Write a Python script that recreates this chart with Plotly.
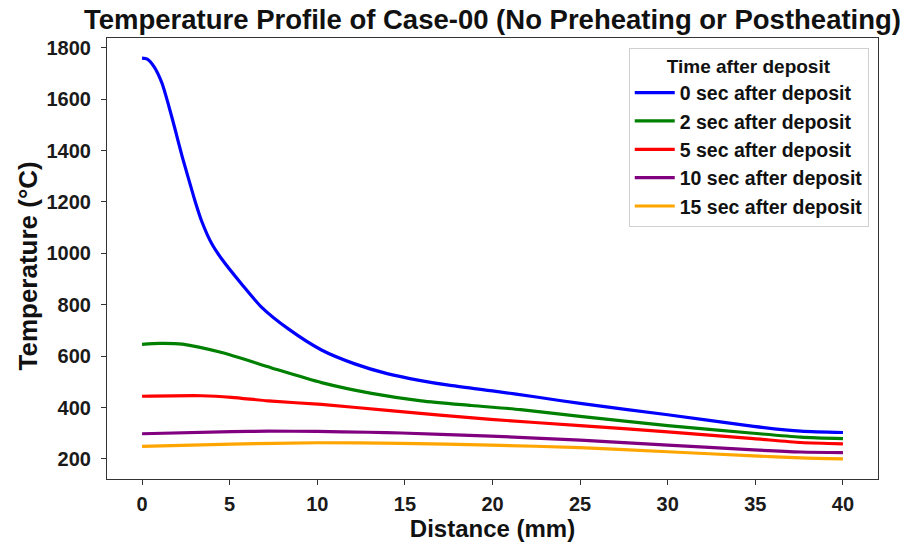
import plotly.graph_objects as go

# Temperature (°C) along the plate, sampled at the listed distances (mm)
dist_0s = [0, 0.3, 0.7, 1.14, 1.52, 1.9, 2.28, 2.66, 3.04, 3.41, 3.98, 4.55,
           5.69, 6.83, 8.35, 10.24, 12.14, 14.04, 15.9, 17.5, 20,
           22.5, 25, 30, 34.9, 37.6, 40]
temp_0s = [1760, 1756, 1725, 1662, 1575, 1479, 1379, 1289, 1200, 1124, 1037, 978,
           880, 790, 706, 624, 570, 531, 505, 487, 465,
           441, 416, 372, 327, 308, 303]

dist_2s = [0, 1, 2.3, 4.55, 7.4, 10.24, 13.1, 15.93, 18.8, 21.6, 25, 30, 34.9, 37.6, 40]
temp_2s = [646, 650, 647, 614, 554, 497, 455, 426, 408, 392, 366, 330, 300, 285, 279]

dist_5s = [0, 3.4, 5.1, 7.2, 10.24, 14, 19.9, 25, 30, 34.9, 37.6, 40]
temp_5s = [444, 446, 440, 426, 412, 389, 354, 330, 305, 279, 264, 259]

dist_10s = [0, 5.1, 7.2, 10, 12.9, 14.8, 19.9, 25, 30, 34.9, 37.6, 40]
temp_10s = [298, 306, 308, 307, 304, 301, 289, 273, 254, 235, 227, 225]

dist_15s = [0, 5.1, 10, 14.8, 19.9, 25, 30, 34.9, 37.6, 40]
temp_15s = [249, 258, 263, 261, 254, 244, 228, 212, 204, 200]

labels = ["0 sec after deposit", "2 sec after deposit", "5 sec after deposit",
          "10 sec after deposit", "15 sec after deposit"]
colors = ["#0000ff", "#008000", "#ff0000", "#800080", "#ffa500"]
series = [(dist_0s, temp_0s), (dist_2s, temp_2s), (dist_5s, temp_5s),
          (dist_10s, temp_10s), (dist_15s, temp_15s)]

x_ticks = [0, 5, 10, 15, 20, 25, 30, 35, 40]
y_ticks = [200, 400, 600, 800, 1000, 1200, 1400, 1600, 1800]

FONT = "Liberation Sans, Arial, sans-serif"

fig = go.Figure()
for (xs, ys), name, col in zip(series, labels, colors):
    fig.add_trace(go.Scatter(
        x=xs, y=ys, mode="lines", name=name,
        line=dict(color=col, width=3.2, shape="spline", smoothing=0.7),
    ))

axis_common = dict(
    showline=True, linecolor="#333333", linewidth=1.2, mirror=True,
    ticks="outside", ticklen=5, tickwidth=1.2, tickcolor="#333333",
    showgrid=False, zeroline=False,
    tickfont=dict(family=FONT, size=20, color="#1a1a1a", weight="bold"),
)

fig.update_layout(
    width=904, height=548,
    margin=dict(l=107, r=26, t=38, b=60),
    paper_bgcolor="white", plot_bgcolor="white",
    title=dict(
        text="<b>Temperature Profile of Case-00 (No Preheating or Postheating)</b>",
        x=(107 + (904 - 26 - 107) / 2) / 904, xanchor="center",
        y=1 - 19 / 548, yanchor="middle",
        font=dict(family=FONT, size=27.5, color="#111111"),
    ),
    xaxis=dict(
        range=[-2, 42], tickvals=x_ticks, ticklabelstandoff=2,
        title=dict(text="<b>Distance (mm)</b>", standoff=4,
                   font=dict(family=FONT, size=24, color="#111111")),
        **axis_common,
    ),
    yaxis=dict(
        range=[122, 1838], tickvals=y_ticks, ticklabelstandoff=6,
        **axis_common,
    ),
    legend=dict(
        title=dict(text="<b>Time after deposit</b>", side="top center",
                   font=dict(family=FONT, size=19, color="#111111")),
        x=0.988, xanchor="right", y=0.978, yanchor="top",
        bgcolor="rgba(255,255,255,0.9)", bordercolor="#d0d0d0", borderwidth=1,
        font=dict(family=FONT, size=19.5, color="#111111", weight="bold"),
        itemwidth=40, tracegroupgap=0,
    ),
)

# y-axis title placed as a rotated annotation
fig.add_annotation(
    text="<b>Temperature (°C)</b>", textangle=-90,
    xref="paper", yref="paper", x=-0.1025, y=0.484,
    xanchor="center", yanchor="middle", showarrow=False,
    font=dict(family=FONT, size=26, color="#111111"),
)

fig.write_html("out.html")
